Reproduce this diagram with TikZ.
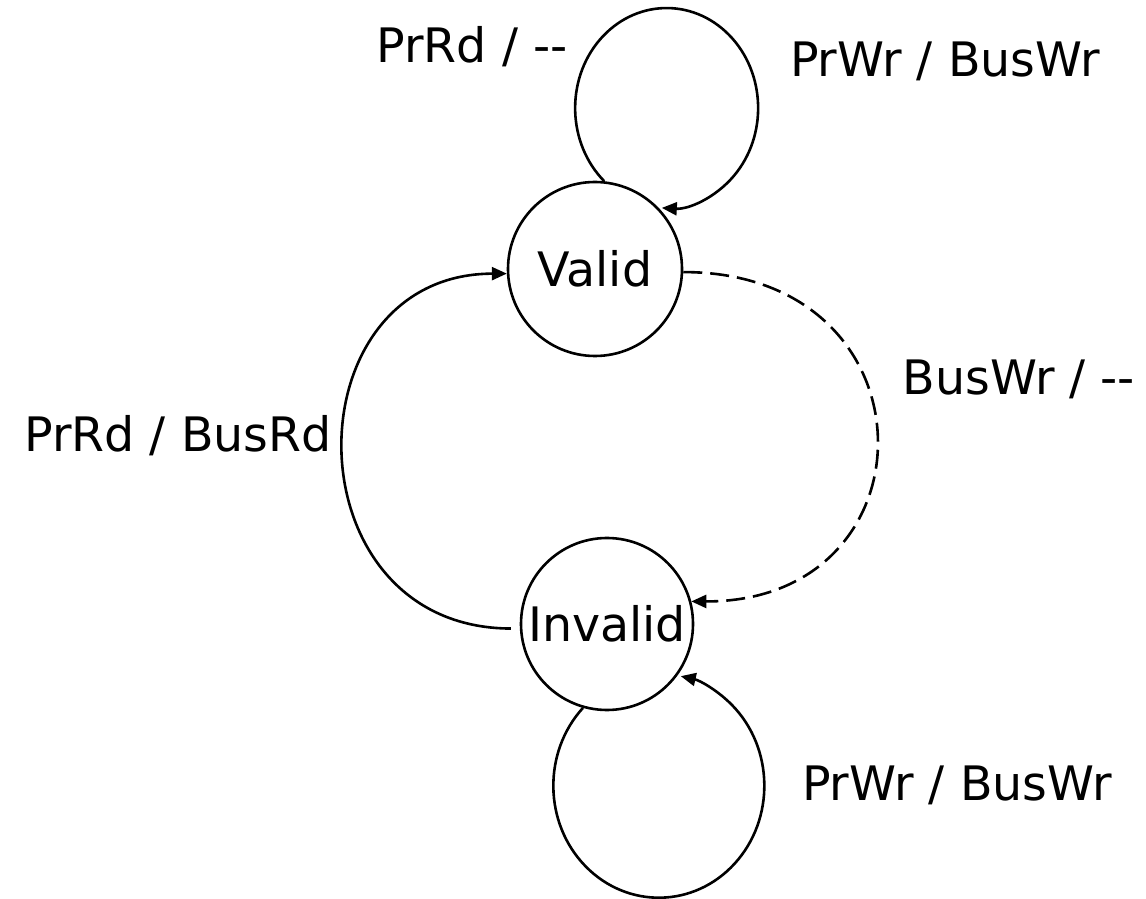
\documentclass[tikz,border=0pt]{standalone}
\usepackage{fontspec}
\newfontfamily\lblfont{DejaVu Sans}
\usetikzlibrary{arrows.meta}
\tikzset{
  state/.style={circle, draw, line width=2.6pt, inner sep=0pt, font=\lblfont\fontsize{47.5}{57}\selectfont},
  conn/.style={line width=2.6pt, -{Triangle[length=15pt,width=13pt]}},
  dconn/.style={conn, dash pattern=on 19pt off 8pt},
  lbl/.style={anchor=base, inner sep=0pt, font=\lblfont\fontsize{47.5}{57}\selectfont}
}
\begin{document}
\begin{tikzpicture}[x=1pt,y=1pt]
\useasboundingbox (0,0) rectangle (1146,898);
\node[state, minimum size=174pt] (V) at (595,629) {Valid};
\node[state, minimum size=172pt] (I) at (607,274) {Invalid};
% self loop on Valid
\draw[conn] (V.84) arc[start angle=227, end angle=-93, x radius=91.5, y radius=100];
% self loop on Invalid
\draw[conn] (I.254) arc[start angle=136, end angle=438, x radius=105.5, y radius=112];
% Invalid -> Valid
\draw[conn, shorten <=9pt] (I.183) .. controls (288,270) and (288,624) .. (V.183);
% Valid -> Invalid (dashed)
\draw[dconn] (V.-2) .. controls (939,626) and (939,296) .. (I.15);
% labels
\node[lbl] (l1) at (472,835) {PrRd / -\kern0pt-};
\node[lbl] (l2) at (945,821) {PrWr / BusWr};
\node[lbl] (l3) at (1019,503) {BusWr / -\kern0pt-};
\node[lbl] (l4) at (178,446) {PrRd / BusRd};
\node[lbl] (l5) at (957,98) {PrWr / BusWr};
\end{tikzpicture}
\end{document}
